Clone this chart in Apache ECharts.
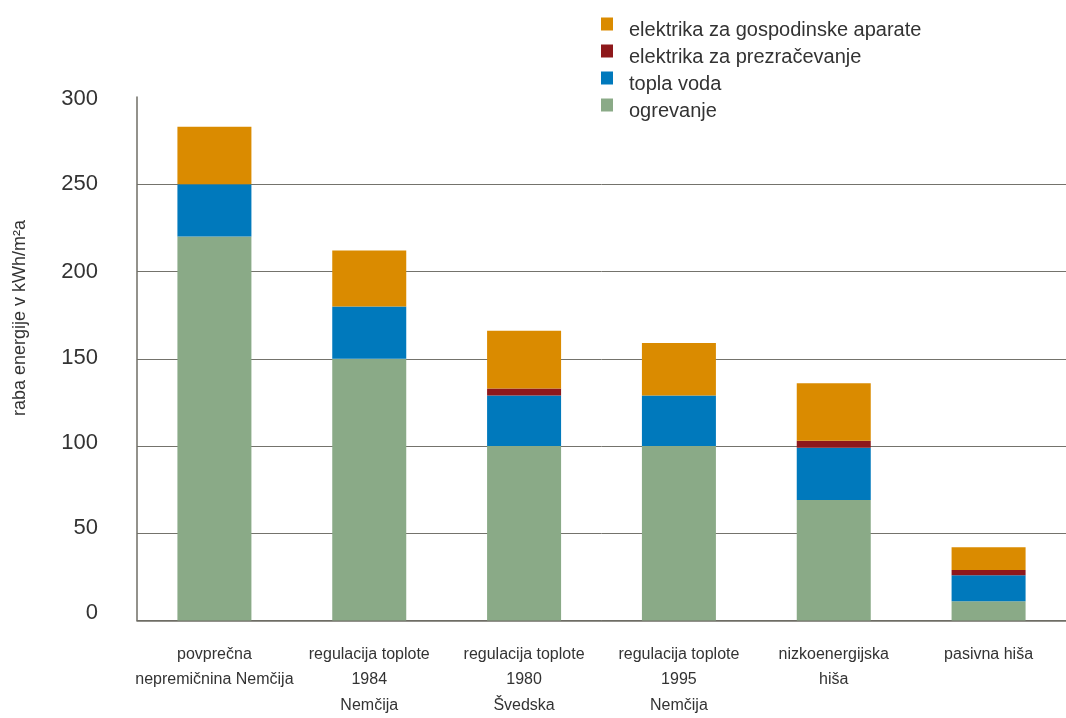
<!DOCTYPE html>
<html>
<head>
<meta charset="utf-8">
<script src="https://cdn.jsdelivr.net/npm/echarts@6/dist/echarts.min.js"></script>
<style>
  html, body { margin: 0; padding: 0; background: #fff; overflow: hidden; width: 1066px; height: 718px; }
  #chart { position: fixed; left: 0; top: 0; width: 1066px; height: 718px; }
</style>
</head>
<body>
<div id="chart"></div>
<script>
// kategorije (stavbe)
const categories = [
  'povprečna\nnepremičnina Nemčija',
  'regulacija toplote\n1984\nNemčija',
  'regulacija toplote\n1980\nŠvedska',
  'regulacija toplote\n1995\nNemčija',
  'nizkoenergijska\nhiša',
  'pasivna hiša'
];

// vrednosti v kWh/m2a
const ogrevanje = [220, 150, 100, 100, 69, 11];
const toplaVoda = [30, 30, 29, 29, 30, 15];
const prezracevanje = [0, 0, 4, 0, 4, 3];
const gospodinski = [33, 32, 33, 30, 33, 13];

const yTicks = [0, 50, 100, 150, 200, 250, 300];

const chart = echarts.init(document.getElementById('chart'));

const font = '"Liberation Sans", Arial, sans-serif';

// oznake osi y so v izvirniku rahlo zamaknjene navzgor pri nizkih vrednostih
const labelRich = {
  o0: { padding: [0, 0, 16, 0] },
  o50: { padding: [0, 0, 10, 0] },
  o100: { padding: [0, 0, 6, 0] },
  o150: { padding: [0, 0, 2, 0] },
  o300: { padding: [4, 0, 0, 0] }
};

const option = {
  backgroundColor: '#fff',
  animation: false,
  textStyle: { fontFamily: font },
  legend: {
    orient: 'vertical',
    left: 601,
    top: 8,
    padding: 0,
    itemWidth: 12,
    itemHeight: 13,
    itemGap: -5,
    icon: 'rect',
    formatter: name => '{s| }\n{t|' + name + '}',
    textStyle: {
      color: '#333',
      padding: [0, 0, 0, 11],
      rich: {
        s: { fontSize: 10, lineHeight: 12, height: 12 },
        t: { fontSize: 20, lineHeight: 20, color: '#333' }
      }
    },
    data: ['elektrika za gospodinske aparate', 'elektrika za prezračevanje', 'topla voda', 'ogrevanje']
  },
  grid: {
    left: 137,
    right: -7,
    top: 97,
    bottom: 92,
    containLabel: false
  },
  xAxis: {
    type: 'category',
    data: categories,
    axisLine: { lineStyle: { color: '#6f6e66', width: 1.5 } },
    axisTick: { show: false },
    axisLabel: {
      color: '#333',
      fontSize: 16,
      lineHeight: 25.5,
      margin: 21,
      interval: 0
    }
  },
  yAxis: {
    type: 'value',
    min: yTicks[0],
    max: yTicks[yTicks.length - 1],
    interval: 50,
    axisLine: { show: true, lineStyle: { color: '#6f6e66', width: 1.5 } },
    axisTick: { show: false },
    axisLabel: {
      color: '#333',
      fontSize: 22,
      margin: 39,
      formatter: v => labelRich['o' + v] ? `{o${v}|${v}}` : String(v),
      rich: labelRich
    },
    splitLine: {
      show: true,
      lineStyle: {
        color: ['#6f6e66', '#74736c', '#74736c', '#74736c', '#74736c', '#74736c', 'rgba(0,0,0,0)'],
        width: 1
      }
    }
  },
  graphic: [{
    type: 'text',
    x: 20,
    y: 318,
    rotation: Math.PI / 2,
    style: {
      text: 'raba energije v kWh/m²a',
      fill: '#333',
      font: '18px ' + font,
      align: 'center',
      verticalAlign: 'middle'
    }
  }],
  series: [
    {
      name: 'ogrevanje',
      type: 'bar',
      stack: 'skupaj',
      barWidth: 74,
      itemStyle: { color: '#8aaa87' },
      data: ogrevanje
    },
    {
      name: 'topla voda',
      type: 'bar',
      stack: 'skupaj',
      itemStyle: { color: '#0079bc' },
      data: toplaVoda
    },
    {
      name: 'elektrika za prezračevanje',
      type: 'bar',
      stack: 'skupaj',
      itemStyle: { color: '#8e181b' },
      data: prezracevanje
    },
    {
      name: 'elektrika za gospodinske aparate',
      type: 'bar',
      stack: 'skupaj',
      itemStyle: { color: '#da8b00' },
      data: gospodinski
    }
  ]
};

chart.setOption(option);
</script>
</body>
</html>
